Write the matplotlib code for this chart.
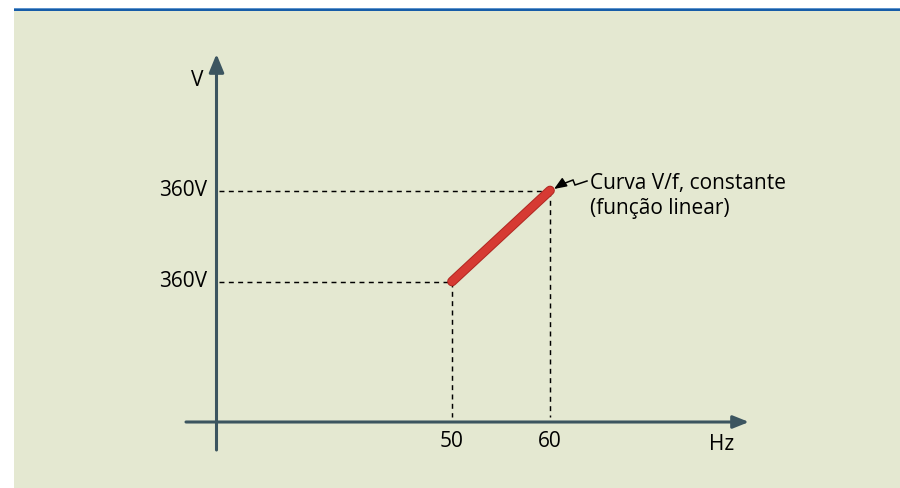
import matplotlib
matplotlib.use("Agg")
import matplotlib.pyplot as plt
from matplotlib.patches import Rectangle
import matplotlib.patheffects as pe

# ---- data ----
freq = [50, 60]
volt = [300, 360]
xtick_labels = ["50", "60"]
ytick_labels = ["360V", "360V"]
x_label = "Hz"
y_label = "V"
note_lines = ["Curva V/f, constante", "(função linear)"]

W, H = 900, 489
fig = plt.figure(figsize=(W / 100, H / 100), dpi=100)
fig.patch.set_facecolor("white")

BG = "#e4e8d1"
fig.patches.append(Rectangle((14 / W, 0), 1 - 14 / W, 1 - 12 / H, transform=fig.transFigure,
                             facecolor=BG, edgecolor="none", zorder=-10))
fig.patches.append(Rectangle((14 / W, 1 - 12 / H), 1 - 14 / W, 3 / H, transform=fig.transFigure,
                             facecolor="#165ca8", edgecolor="none", zorder=-10))
fig.patches.append(Rectangle((14 / W, 1 - 10 / H), 1 - 14 / W, 1 / H, transform=fig.transFigure,
                             facecolor="#5d93cc", edgecolor="none", zorder=-10))

ax = fig.add_axes([0, 0, 1, 1])
ax.set_facecolor("none")
ax.axis("off")
ax.set_zorder(5)

# scale: pixel position of the data points
px_x50, px_per_hz = 452.0, 9.8
py_v300, py_per_v = 282.5, 91.0 / 60.0
ax.set_xlim(50 - px_x50 / px_per_hz, 50 + (W - px_x50) / px_per_hz)
ax.set_ylim(300 - (H - py_v300) / py_per_v, 300 + py_v300 / py_per_v)

def dx(px):
    return 50 + (px - px_x50) / px_per_hz

def dy(py):
    return 300 + (py_v300 - py) / py_per_v

AXC = "#3c5560"
x_ax, y_ax = dx(216.5), dy(423)

# axes with arrows
ax.annotate("", xy=(dx(749), y_ax), xytext=(dx(186), y_ax),
            arrowprops=dict(arrowstyle="-|>,head_length=0.95,head_width=0.38",
                            lw=2.2, color=AXC, shrinkA=0, shrinkB=0))
ax.annotate("", xy=(x_ax, dy(55)), xytext=(x_ax, dy(451)),
            arrowprops=dict(arrowstyle="-|>,head_length=1.1,head_width=0.45",
                            lw=2.2, color=AXC, shrinkA=0, shrinkB=0))

# dashed guides
for f, v in zip(freq, volt):
    ax.plot([x_ax + 0.25, f], [v, v], color="black", lw=1.05, dashes=(3.4, 3.0), zorder=2)
    ax.plot([f, f], [v, dy(418)], color="black", lw=1.05, dashes=(3.4, 3.0), zorder=2)

# red line
ax.plot(freq, volt, color="#d63a33", lw=5.6, solid_capstyle="round", zorder=4,
        path_effects=[pe.Stroke(linewidth=7.0, foreground="#b02822"), pe.Normal()])

FONT = ["Open Sans", "DejaVu Sans"]
FS = 15
TC = "black"
for v, lab in zip(volt, ytick_labels):
    ax.text(dx(207), v + (dy(287) - dy(282.5)), lab,
            ha="right", va="baseline", fontsize=FS, family=FONT, color=TC)
for f, lab in zip(freq, xtick_labels):
    ax.text(f, dy(447), lab, ha="center", va="baseline", fontsize=FS, family=FONT, color=TC)
ax.text(dx(722), dy(450), x_label, ha="center", va="baseline", fontsize=FS, family=FONT, color=TC)
ax.text(dx(197), dy(86), y_label, ha="center", va="baseline", fontsize=FS, family=FONT, color=TC)

for i, line in enumerate(note_lines):
    ax.text(dx(590), dy(189 + 25 * i), line, ha="left", va="baseline", fontsize=FS,
            family=FONT, color=TC)

# zigzag pointer
zx = [dx(587), dx(575), dx(573), dx(560)]
zy = [dy(182), dy(186), dy(181), dy(186)]
ax.plot(zx, zy, color="black", lw=1.1, zorder=5, solid_joinstyle="miter")
ax.annotate("", xy=(dx(554), dy(190)), xytext=(dx(561), dy(185.5)),
            arrowprops=dict(arrowstyle="-|>,head_length=0.75,head_width=0.3",
                            lw=1.1, color="black", shrinkA=0, shrinkB=0))

fig.savefig("out.png", dpi=100, facecolor=fig.get_facecolor())
